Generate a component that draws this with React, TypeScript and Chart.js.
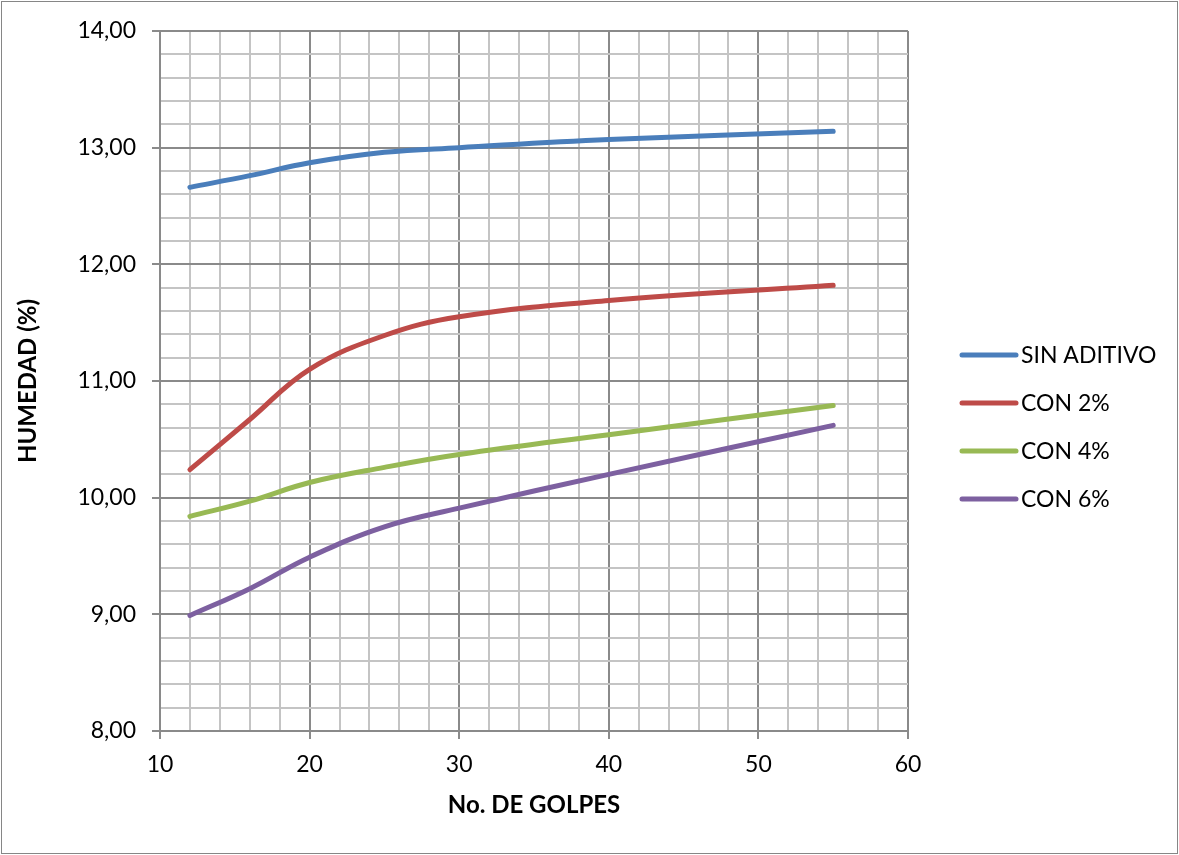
import React, { useEffect, useRef } from "react";
import { Chart, registerables } from "chart.js";

Chart.register(...registerables);

const X_GOLPES = [12, 16, 20, 25, 30, 40, 55];
const SIN_ADITIVO = [12.66, 12.76, 12.87, 12.96, 13.0, 13.07, 13.14];
const CON_2 = [10.24, 10.67, 11.1, 11.39, 11.55, 11.69, 11.82];
const CON_4 = [9.84, 9.97, 10.13, 10.26, 10.37, 10.54, 10.79];
const CON_6 = [8.99, 9.22, 9.49, 9.75, 9.91, 10.2, 10.62];

const SERIES_NAMES = ["SIN ADITIVO", "CON 2%", "CON 4%", "CON 6%"];
const SERIES_VALUES = [SIN_ADITIVO, CON_2, CON_4, CON_6];
const SERIES_COLORS = ["#4A7EBB", "#BE4B48", "#98B954", "#7D60A0"];

const X_TITLE = "No. DE GOLPES";
const Y_TITLE = "HUMEDAD (%)";

const FONT = "Lato, 'Open Sans', sans-serif";

const isMajor = (v: number, step: number) =>
  Math.abs(v / step - Math.round(v / step)) < 1e-6;

const MAJOR = "#8A8A8A";
const MINOR = "#C4C4C4";

const frame = {
  id: "frame",
  beforeDraw(chart: any) {
    const { ctx, width, height } = chart;
    ctx.save();
    ctx.fillStyle = "#ffffff";
    ctx.fillRect(0, 0, width, height);
    ctx.strokeStyle = "#868686";
    ctx.lineWidth = 1;
    ctx.strokeRect(1.5, 1.5, width - 3, height - 3);
    ctx.restore();
  },
};

const legendPlugin = {
  id: "customLegend",
  afterDraw(chart: any) {
    const { ctx, chartArea } = chart;
    ctx.save();
    chart.data.datasets.forEach((ds: any, i: number) => {
      const y = chartArea.top + 324 + i * 48;
      const x0 = chartArea.right + 54;
      ctx.strokeStyle = ds.borderColor;
      ctx.lineWidth = 5;
      ctx.lineCap = "round";
      ctx.beginPath();
      ctx.moveTo(x0, y);
      ctx.lineTo(x0 + 54, y);
      ctx.stroke();
      ctx.fillStyle = "#000";
      ctx.font = `23px ${FONT}`;
      ctx.textBaseline = "middle";
      ctx.textAlign = "left";
      ctx.fillText(ds.label, x0 + 59, y + 1);
    });
    ctx.restore();
  },
};

export default function App() {
  const ref = useRef<HTMLCanvasElement>(null);

  useEffect(() => {
    if (!ref.current) return;
    const datasets = SERIES_NAMES.map((name, i) => ({
      label: name,
      data: X_GOLPES.map((x, j) => ({ x, y: SERIES_VALUES[i][j] })),
      borderColor: SERIES_COLORS[i],
      backgroundColor: SERIES_COLORS[i],
      borderWidth: 5,
      borderCapStyle: "round" as const,
      borderJoinStyle: "round" as const,
      pointRadius: 0,
      tension: 0.4,
      fill: false,
    }));

    const chart = new Chart(ref.current, {
      type: "line",
      data: { datasets },
      options: {
        animation: false,
        responsive: false,
        layout: { padding: { top: 31, right: 271, left: 0, bottom: 0 } },
        plugins: {
          legend: { display: false },
          tooltip: { enabled: false },
        },
        scales: {
          x: {
            type: "linear",
            min: 10,
            max: 60,
            afterFit: (s: any) => {
              s.height = 124;
            },
            ticks: {
              stepSize: 2,
              autoSkip: false,
              maxRotation: 0,
              padding: 12,
              color: "#000",
              font: { family: FONT, size: 23 },
              callback: (v: any) => (isMajor(Number(v), 10) ? String(v) : ""),
            },
            grid: {
              color: (c: any) => (isMajor(c.tick.value, 10) ? MAJOR : MINOR),
              tickColor: (c: any) =>
                isMajor(c.tick.value, 10) ? MAJOR : "rgba(0,0,0,0)",
              tickLength: 8,
              lineWidth: 2,
            },
            border: { color: MAJOR, width: 2 },
            title: {
              display: true,
              text: X_TITLE,
              color: "#000",
              font: { family: FONT, size: 24, weight: "bold" },
              padding: { top: 0, bottom: 35 },
            },
          },
          y: {
            type: "linear",
            min: 8,
            max: 14,
            afterFit: (s: any) => {
              s.width = 160;
            },
            ticks: {
              stepSize: 0.2,
              autoSkip: false,
              padding: 16,
              color: "#000",
              font: { family: FONT, size: 23 },
              callback: (v: any) =>
                isMajor(Number(v), 1) ? Number(v).toFixed(2).replace(".", ",") : "",
            },
            grid: {
              color: (c: any) => (isMajor(c.tick.value, 1) ? MAJOR : MINOR),
              tickColor: (c: any) =>
                isMajor(c.tick.value, 1) ? MAJOR : "rgba(0,0,0,0)",
              tickLength: 8,
              lineWidth: 2,
            },
            border: { color: MAJOR, width: 2 },
            title: {
              display: true,
              text: Y_TITLE,
              color: "#000",
              font: { family: FONT, size: 24, weight: "bold" },
              padding: { top: 14, bottom: 0 },
            },
          },
        },
      },
      plugins: [frame, legendPlugin],
    });
    return () => chart.destroy();
  }, []);

  return (
    <div style={{ position: "absolute", left: 0, top: 0, width: 1179, height: 855 }}>
      <canvas ref={ref} width={1179} height={855} style={{ display: "block" }} />
    </div>
  );
}
